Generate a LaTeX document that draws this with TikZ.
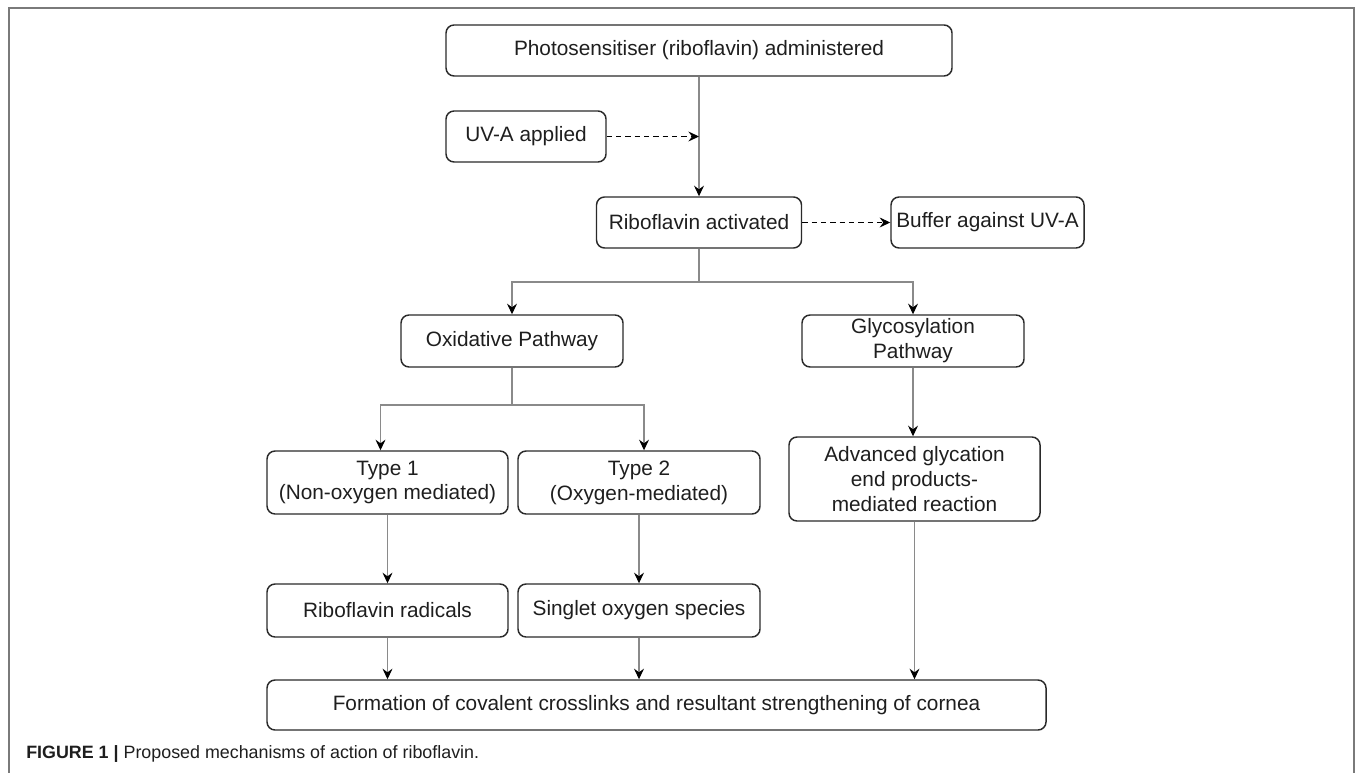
\documentclass[tikz,border=0pt]{standalone}
\usepackage{fontspec}
\setmainfont{Liberation Sans}
\usetikzlibrary{arrows.meta,calc}
\definecolor{linegray}{HTML}{8A8A8A}
\definecolor{boxline}{HTML}{2A2A2A}
\definecolor{txt}{HTML}{1E1E1E}
\definecolor{framegray}{HTML}{7A7A7A}
\begin{document}
\begin{tikzpicture}[x=0.75pt,y=-0.75pt,
  box/.style={draw=boxline, line width=1.1pt, rounded corners=6pt, align=center,
    text=txt, inner sep=0pt, font=\fontsize{15.6}{18.7}\selectfont},
  wh/.style 2 args={minimum width=#1*0.75pt, minimum height=#2*0.75pt},
  conn/.style={draw=linegray, line width=0.8pt},
  arr/.style={conn, -{Stealth[length=8pt,width=7.5pt,inset=2.8pt,color=black]}},
  darr/.style={draw=black, line width=0.8pt, dash pattern=on 4pt off 3pt,
    -{Stealth[length=8pt,width=7.5pt,inset=2.8pt,color=black]}}]
\useasboundingbox (0,0) rectangle (1355,773);
\draw[framegray, line width=1.2pt] (9,773) -- (9,8) -- (1354,8) -- (1354,773);

\node[box, wh={506}{51}] (p1) at (699,50.5) {Photosensitiser (riboflavin) administered};
\node[box, wh={160}{51}] (uva) at (526,136.5) {UV-A applied};
\node[box, wh={205}{51}] (act) at (699,222.5) {Riboflavin activated};
\node[box, wh={193}{51}] (buf) at (987.5,222.5) {Buffer against UV-A};
\node[box, wh={222}{52}] (oxi) at (512,341) {Oxidative Pathway};
\node[box, wh={222}{52}] (gly) at (913,341) {Glycosylation\\Pathway};
\node[box, wh={241}{63}] (t1) at (387.5,482.5) {Type 1\\(Non-oxygen mediated)};
\node[box, wh={242}{63}] (t2) at (639,482.5) {Type 2\\(Oxygen-mediated)};
\node[box, wh={251}{84}] (adv) at (914.5,479) {Advanced glycation\\end products-\\mediated reaction};
\node[box, wh={241}{53}] (rad) at (387.5,610.5) {Riboflavin radicals};
\node[box, wh={242}{53}] (sing) at (639,610.5) {Singlet oxygen species};
\node[box, wh={779}{50}] (form) at (656.5,705) {Formation of covalent crosslinks and resultant strengthening of cornea};

\coordinate (uvj) at (p1.south |- uva.east);
\draw[arr] (p1.south) -- (act.north);
\draw[darr] (uva.east) -- (uvj);
\draw[darr] (act.east) -- (buf.west);

\coordinate (s1) at (699,282);
\draw[conn] (act.south) -- (s1);
\draw[arr] (s1) -| (oxi.north);
\draw[arr] (s1) -| (gly.north);

\coordinate (s2) at (512,405);
\draw[conn] (oxi.south) -- (s2);
\draw[arr] (s2) -| ($(t1.north)+(-7,0)$);
\draw[arr] (s2) -| ($(t2.north)+(5,0)$);

\draw[arr] (t1.south) -- (rad.north);
\draw[arr] (t2.south) -- (sing.north);
\draw[arr] (gly.south) -- (gly.south |- adv.north);
\draw[arr] (rad.south) -- (rad.south |- form.north);
\draw[arr] (sing.south) -- (sing.south |- form.north);
\draw[arr] (adv.south) -- (adv.south |- form.north);

\node[anchor=base west, inner sep=0pt, text=txt, font=\fontsize{13.4}{16}\selectfont] (cap) at (26,758)
  {\textbf{FIGURE 1 |} Proposed mechanisms of action of riboflavin.};
\end{tikzpicture}
\end{document}
